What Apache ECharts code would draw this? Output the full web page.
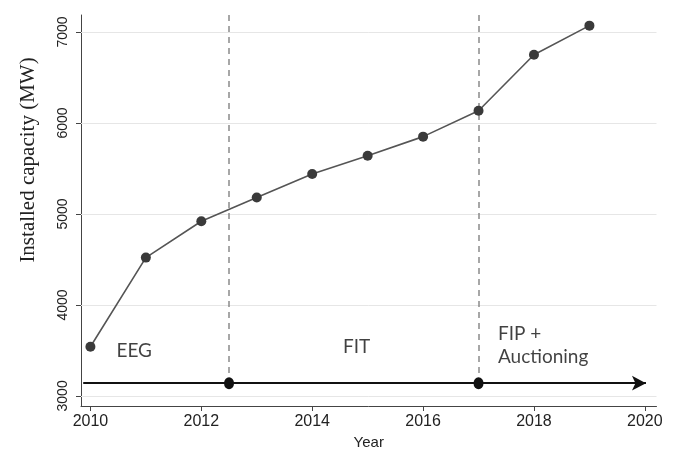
<!DOCTYPE html>
<html>
<head>
<meta charset="utf-8">
<script src="https://cdn.jsdelivr.net/npm/echarts@6/dist/echarts.min.js"></script>
<style>
html,body{margin:0;padding:0;background:#fff;}
#chart{width:680px;height:455px;}
</style>
</head>
<body>
<div id="chart"></div>
<script>
const years = [2010, 2011, 2012, 2013, 2014, 2015, 2016, 2017, 2018, 2019];
const capacity = [3540, 4520, 4920, 5180, 5440, 5640, 5850, 6135, 6750, 7070];
const yTicks = [3000, 4000, 5000, 6000, 7000];
const xTicks = [2010, 2012, 2014, 2016, 2018, 2020];
const policyBreaks = [2012.5, 2017];
const timelineLevel = 3140;
const timelineStart = 2009.87;
const timelineEnd = 2020.02;
const phaseLabels = [
  {text: 'EEG', x: 2010.79, y: 3494, align: 'center'},
  {text: 'FIT', x: 2014.8, y: 3540, align: 'center'},
  {text: 'FIP +', x: 2017.35, y: 3677, align: 'left'},
  {text: 'Auctioning', x: 2017.35, y: 3432, align: 'left'}
];
const xMin = 2009.83, xMax = 2020.21, yMin = 2889, yMax = 7187;

const chart = echarts.init(document.getElementById('chart'));
const sans = "'Liberation Sans', Arial, sans-serif";
chart.setOption({
  animation: false,
  backgroundColor: '#fff',
  grid: {left: 81, right: 23.5, top: 15, bottom: 43, containLabel: false},
  xAxis: {
    type: 'value', min: xMin, max: xMax,
    name: 'Year', nameLocation: 'middle', nameGap: 29,
    nameTextStyle: {fontFamily: sans, fontSize: 15, color: '#222'},
    axisLine: {show: true, lineStyle: {color: '#444', width: 1}},
    axisTick: {show: true, length: 5, lineStyle: {color: '#444'}, customValues: xTicks},
    axisLabel: {customValues: xTicks, formatter: v => String(v), fontFamily: sans, fontSize: 16, color: '#222', margin: 8},
    splitLine: {show: false}
  },
  yAxis: {
    type: 'value', min: yMin, max: yMax,
    axisLine: {show: true, lineStyle: {color: '#444', width: 1}},
    axisTick: {show: true, length: 5, lineStyle: {color: '#444'}, customValues: yTicks},
    axisLabel: {customValues: yTicks, formatter: v => String(v), rotate: 90, fontFamily: sans, fontSize: 14, color: '#222', margin: 11},
    splitLine: {show: false}
  },
  graphic: [{
    type: 'text', x: 28, y: 160, rotation: Math.PI / 2,
    style: {text: 'Installed capacity (MW)', fontFamily: "'Liberation Serif', 'Times New Roman', serif",
      fontSize: 21, fill: '#222', align: 'center', verticalAlign: 'middle'}
  }],
  series: [
    {
      type: 'line', data: [], silent: true,
      markLine: {
        silent: true, symbol: 'none', label: {show: false},
        lineStyle: {color: '#e6e6e6', width: 1, type: 'solid'},
        data: yTicks.map(v => [{coord: [xMin, v]}, {coord: [xMax, v]}])
      }
    },
    {
      type: 'line', data: [], silent: true,
      markLine: {
        silent: true, symbol: 'none', label: {show: false},
        lineStyle: {color: '#8a8a8a', width: 1.5, type: [6, 5]},
        data: policyBreaks.map(v => [{coord: [v, yMax]}, {coord: [v, timelineLevel]}])
      }
    },
    {
      type: 'line', data: [], silent: true,
      markLine: {
        silent: true, symbol: ['none', 'arrow'], symbolSize: [11, 14], label: {show: false},
        lineStyle: {color: '#111', width: 2, type: 'solid'},
        data: [[{coord: [timelineStart, timelineLevel]}, {coord: [timelineEnd, timelineLevel]}]]
      }
    },
    {
      type: 'scatter', silent: true,
      symbol: 'circle', symbolSize: [10, 12],
      itemStyle: {color: '#111', opacity: 1},
      emphasis: {disabled: true},
      data: policyBreaks.map(v => [v, timelineLevel]),
      z: 5
    },
    {
      type: 'line',
      data: years.map((y, i) => [y, capacity[i]]),
      symbol: 'circle', symbolSize: 10, showSymbol: true,
      lineStyle: {color: '#555', width: 1.6},
      itemStyle: {color: '#3a3a3a'},
      z: 6
    },
    {
      type: 'scatter', silent: true, symbolSize: 0,
      data: phaseLabels.map(p => ({
        value: [p.x, p.y],
        label: {show: true, position: 'inside', formatter: p.text, align: p.align,
          fontFamily: "Lato, 'Open Sans', sans-serif", fontSize: 19, color: '#111'}
      })),
      z: 7
    }
  ]
});
</script>
</body>
</html>
